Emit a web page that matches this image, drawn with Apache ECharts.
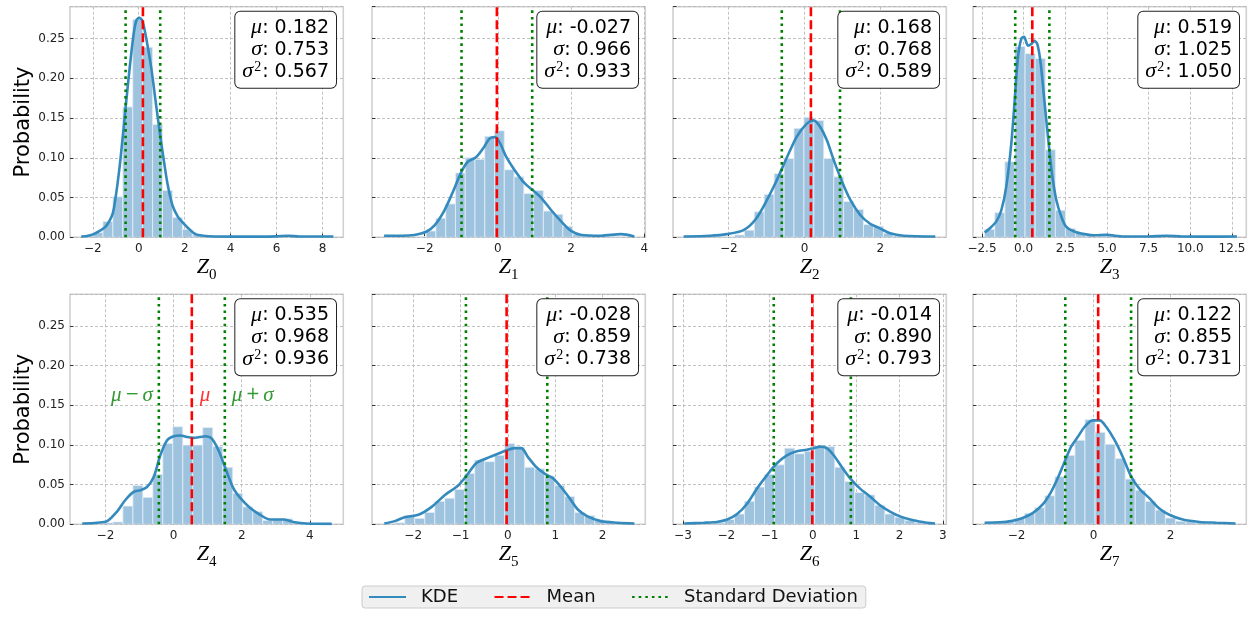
<!DOCTYPE html>
<html><head><meta charset="utf-8">
<script src="https://cdn.jsdelivr.net/npm/echarts@6/dist/echarts.min.js"></script>
<style>html,body{margin:0;padding:0;background:#fff;}#c{width:1255px;height:622px;}</style>
</head><body><div id="c"></div>
<script>
// ---------------- data ----------------
const panelIds = [0, 1, 2, 3, 4, 5, 6, 7];
const means = [0.182, -0.027, 0.168, 0.519, 0.535, -0.028, -0.014, 0.122];
const sigmas = [0.753, 0.966, 0.768, 1.025, 0.968, 0.859, 0.890, 0.855];
const variances = [0.567, 0.933, 0.589, 1.050, 0.936, 0.738, 0.793, 0.731];
const xMin = [-2.99, -3.44, -3.47, -3.04, -3.04, -2.87, -3.23, -3.13];
const xMax = [8.9, 4.03, 3.74, 13.36, 4.98, 2.90, 3.08, 3.97];
const xTicks = [[-2,0,2,4,6,8],[-2,0,2,4],[-2,0,2],[-2.5,0,2.5,5,7.5,10,12.5],[-2,0,2,4],[-2,-1,0,1,2],[-3,-2,-1,0,1,2,3],[-2,0,2]];
const xTickDecimals = [0, 0, 0, 1, 0, 0, 0, 0];
const yMax = 0.29;
const yInterval = 0.05;

const binStart = [-2.42, -3.028, -3.16, -2.34, -2.66, -2.60, -2.97, -2.83];
const binWidth = [0.432, 0.267, 0.262, 0.606, 0.293, 0.211, 0.2316, 0.261];
const hist0 = [0.002,0.006,0.020,0.051,0.164,0.274,0.239,0.142,0.059,0.025,0.010,0.003,0.001,0.001,0,0.0007,0,0,0,0.0007,0,0,0,0,0.0007];
const hist1 = [0.001,0,0,0.001,0.008,0.024,0.042,0.081,0.100,0.098,0.127,0.134,0.085,0.076,0.055,0.059,0.033,0.029,0.014,0.004,0.002,0,0.001,0.001,0];
const hist2 = [0,0.001,0,0.001,0.001,0.003,0.009,0.032,0.054,0.080,0.099,0.137,0.151,0.147,0.099,0.076,0.045,0.035,0.016,0.014,0.005,0.002,0.001,0,0.001];
const hist3 = [0.010,0.031,0.095,0.240,0.231,0.225,0.110,0.034,0.011,0.005,0.002,0.001,0.001,0,0,0,0.001,0,0,0,0,0,0,0,0.001];
const hist4 = [0,0.001,0.002,0.003,0.023,0.049,0.034,0.063,0.102,0.123,0.100,0.100,0.122,0.098,0.072,0.039,0.022,0.016,0.005,0.007,0.007,0.002,0.001,0,0.001];
const hist5 = [0.001,0.002,0.011,0.0075,0.015,0.029,0.033,0.044,0.064,0.081,0.079,0.087,0.102,0.097,0.072,0.070,0.061,0.049,0.035,0.015,0.011,0.005,0.002,0.001,0.001];
const hist6 = [0.001,0.001,0.001,0.002,0.006,0.013,0.029,0.047,0.063,0.075,0.096,0.089,0.092,0.098,0.098,0.072,0.054,0.040,0.037,0.024,0.013,0.009,0.005,0.002,0.001];
const hist7 = [0.001,0.002,0.003,0.0075,0.014,0.021,0.036,0.060,0.087,0.106,0.132,0.116,0.101,0.083,0.057,0.043,0.029,0.018,0.008,0.004,0.003,0.002,0.001,0.001,0];

const kde0 = [[-2.5,0.001],[-2.2,0.002],[-1.96,0.004],[-1.7,0.008],[-1.45,0.013],[-1.25,0.022],[-1.13,0.030],[-1.02,0.047],[-0.83,0.089],[-0.68,0.131],[-0.54,0.172],[-0.39,0.214],[-0.22,0.256],[-0.1,0.273],[0.02,0.276],[0.146,0.273],[0.29,0.256],[0.54,0.214],[0.73,0.172],[0.92,0.131],[1.1,0.095],[1.26,0.066],[1.47,0.040],[1.7,0.026],[1.9,0.019],[2.1,0.013],[2.47,0.004],[2.8,0.002],[3.3,0.001],[4.5,0.0008],[6.0,0.0012],[6.5,0.002],[7.0,0.001],[8.47,0.001]];
const kde1 = [[-3.11,0.002],[-2.64,0.002],[-2.28,0.003],[-1.96,0.007],[-1.73,0.015],[-1.46,0.034],[-1.23,0.057],[-1.0,0.082],[-0.82,0.095],[-0.59,0.101],[-0.37,0.114],[-0.23,0.124],[-0.09,0.126],[0.04,0.120],[0.23,0.101],[0.45,0.085],[0.73,0.068],[0.96,0.059],[1.18,0.050],[1.46,0.034],[1.73,0.020],[2.0,0.008],[2.28,0.003],[2.82,0.002],[3.37,0.004],[3.73,0.001]];
const kde2 = [[-3.19,0.001],[-2.49,0.002],[-2.05,0.004],[-1.61,0.009],[-1.30,0.022],[-0.99,0.047],[-0.73,0.072],[-0.46,0.101],[-0.20,0.127],[0.06,0.143],[0.24,0.147],[0.41,0.139],[0.59,0.122],[0.77,0.097],[0.99,0.070],[1.21,0.047],[1.47,0.028],[1.73,0.017],[2.0,0.011],[2.26,0.005],[2.61,0.002],[3.45,0.001]];
const kde3 = [[-2.34,0.006],[-2.04,0.011],[-1.64,0.020],[-1.34,0.034],[-1.04,0.064],[-0.74,0.118],[-0.54,0.172],[-0.34,0.227],[-0.14,0.250],[0.02,0.252],[0.26,0.241],[0.46,0.243],[0.62,0.247],[0.82,0.243],[1.02,0.219],[1.22,0.177],[1.46,0.126],[1.70,0.080],[1.96,0.047],[2.26,0.026],[2.56,0.013],[3.06,0.007],[3.66,0.004],[4.26,0.0025],[4.96,0.003],[6.0,0.001],[7.5,0.001],[8.56,0.002],[9.5,0.001],[11.0,0.0008],[12.8,0.001]];
const kde4 = [[-2.68,0.001],[-2.24,0.002],[-1.95,0.004],[-1.66,0.016],[-1.41,0.031],[-1.17,0.041],[-0.97,0.043],[-0.78,0.047],[-0.58,0.060],[-0.39,0.087],[-0.19,0.106],[0.0,0.111],[0.20,0.112],[0.39,0.110],[0.59,0.109],[0.78,0.110],[0.93,0.111],[1.12,0.108],[1.32,0.093],[1.51,0.072],[1.76,0.045],[2.0,0.031],[2.24,0.021],[2.54,0.012],[2.83,0.006],[3.22,0.006],[3.51,0.003],[3.90,0.001],[4.64,0.0005]];
const kde5 = [[-2.61,0.001],[-2.39,0.004],[-2.18,0.009],[-1.89,0.012],[-1.61,0.022],[-1.33,0.037],[-1.05,0.049],[-0.84,0.064],[-0.67,0.077],[-0.46,0.083],[-0.25,0.088],[-0.04,0.093],[0.14,0.096],[0.28,0.096],[0.42,0.085],[0.60,0.072],[0.77,0.064],[0.95,0.058],[1.12,0.047],[1.30,0.033],[1.47,0.019],[1.68,0.010],[1.96,0.004],[2.32,0.002],[2.67,0.001]];
const kde6 = [[-2.97,0.001],[-2.52,0.002],[-2.22,0.003],[-1.98,0.006],[-1.75,0.013],[-1.52,0.026],[-1.29,0.045],[-1.06,0.062],[-0.83,0.077],[-0.60,0.087],[-0.37,0.092],[-0.14,0.094],[0.02,0.096],[0.17,0.098],[0.32,0.096],[0.48,0.087],[0.67,0.072],[0.86,0.058],[1.09,0.045],[1.32,0.035],[1.55,0.024],[1.78,0.016],[2.01,0.010],[2.32,0.005],[2.63,0.002],[2.82,0.001]];
const kde7 = [[-2.83,0.002],[-2.44,0.0025],[-2.14,0.004],[-1.84,0.008],[-1.58,0.014],[-1.32,0.025],[-1.10,0.041],[-0.93,0.058],[-0.75,0.079],[-0.58,0.098],[-0.41,0.110],[-0.23,0.123],[-0.02,0.131],[0.16,0.131],[0.33,0.123],[0.55,0.106],[0.76,0.085],[0.98,0.060],[1.19,0.045],[1.45,0.033],[1.71,0.020],[1.97,0.012],[2.32,0.006],[2.75,0.003],[3.19,0.002],[3.69,0.001]];

const hists = [hist0, hist1, hist2, hist3, hist4, hist5, hist6, hist7];
const kdes = [kde0, kde1, kde2, kde3, kde4, kde5, kde6, kde7];
const annotY = 0.163; // height of the mu / mu±sigma text labels in panel 4

// ---------------- layout ----------------
const GL = [70, 372, 673, 973];
const GT = [6.7, 294.3];
const GW = 273.3;
const GH = [230.6, 230];

const MATH = 'Liberation Serif';
const SANS = 'DejaVu Sans';
const C_KDE = '#348ABD', C_BAR = '#9dc3df', C_MEAN = '#ff0000', C_STD = '#008000';

const grids = [], xAxes = [], yAxes = [], series = [], graphics = [];

function fmtTick(dec) {
  return function (v) {
    const s = dec ? v.toFixed(dec) : String(Math.round(v));
    return s.replace('-', '\u2212');
  };
}

function histRender(params, api) {
  const h = api.value(2);
  if (!(h > 0)) return null;
  const p0 = api.coord([api.value(0), h]);
  const p1 = api.coord([api.value(1), 0]);
  return {
    type: 'rect',
    shape: { x: p0[0], y: p0[1], width: p1[0] - p0[0], height: p1[1] - p0[1] },
    style: { fill: C_BAR, stroke: '#e6eff7', lineWidth: 0.8 }
  };
}

panelIds.forEach(function (i) {
  const row = i < 4 ? 0 : 1, col = i % 4;
  grids.push({ left: GL[col], top: GT[row], width: GW, height: GH[row], show: true,
    borderColor: '#d0d0d0', borderWidth: 1.6, backgroundColor: '#fff' });
  xAxes.push({
    type: 'value', gridIndex: i, min: xMin[i], max: xMax[i],
    axisLine: { show: false, onZero: false },
    axisTick: { show: true, inside: true, length: 3.5, customValues: xTicks[i], lineStyle: { color: '#333', width: 1 } },
    axisLabel: { customValues: xTicks[i], formatter: fmtTick(xTickDecimals[i]), fontSize: 12, fontFamily: SANS, color: '#222', margin: 6 },
    splitLine: { show: true, lineStyle: { color: '#b3b3b3', width: 0.8, type: [3, 2] } },
    name: '{z|Z}{s|' + i + '}', nameLocation: 'middle', nameGap: row === 0 ? 16 : 19,
    nameTextStyle: { rich: {
      z: { fontFamily: MATH, fontStyle: 'italic', fontSize: 22, lineHeight: 24, verticalAlign: 'top', color: '#000' },
      s: { fontFamily: MATH, fontSize: 15, lineHeight: 26, verticalAlign: 'bottom', color: '#000' }
    } }
  });
  yAxes.push({
    type: 'value', gridIndex: i, min: 0, max: yMax, interval: yInterval,
    axisLine: { show: false, onZero: false },
    axisTick: { show: true, inside: true, length: 3.5, lineStyle: { color: '#333', width: 1 } },
    axisLabel: { show: col === 0, formatter: function (v) { return v.toFixed(2); }, showMaxLabel: false,
      fontSize: 12, fontFamily: SANS, color: '#222', margin: 5 },
    splitLine: { show: true, lineStyle: { color: '#b3b3b3', width: 0.8, type: [3, 2] } },
    name: col === 0 ? 'Probability' : '', nameLocation: 'middle', nameGap: 34,
    nameTextStyle: { fontSize: 21, fontFamily: SANS, color: '#000' }
  });

  const bins = hists[i].map(function (h, k) {
    return [binStart[i] + k * binWidth[i], binStart[i] + (k + 1) * binWidth[i], h];
  });
  series.push({ type: 'custom', xAxisIndex: i, yAxisIndex: i, renderItem: histRender,
    encode: { x: [0, 1], y: 2 }, data: bins, z: 1, silent: true, clip: true });
  series.push({ type: 'line', name: 'KDE', xAxisIndex: i, yAxisIndex: i, data: kdes[i], smooth: 0.3,
    symbol: 'none', lineStyle: { color: C_KDE, width: 2.6 }, itemStyle: { color: C_KDE }, z: 3, silent: true });
  const mu = means[i], sd = sigmas[i];
  series.push({ type: 'line', name: 'Mean', xAxisIndex: i, yAxisIndex: i, data: [[mu, 0], [mu, yMax]],
    symbol: 'none', lineStyle: { color: C_MEAN, width: 2.6, type: [9, 4] }, itemStyle: { color: C_MEAN }, z: 5, silent: true });
  [mu - sd, mu + sd].forEach(function (xv) {
    series.push({ type: 'line', name: 'Standard Deviation', xAxisIndex: i, yAxisIndex: i, data: [[xv, 0], [xv, yMax]],
      symbol: 'none', lineStyle: { color: C_STD, width: 2.6, type: [2.6, 4] }, itemStyle: { color: C_STD }, z: 4, silent: true });
  });

  graphics.push({
    type: 'text', z: 100, x: GL[col] + GW - 7.3, y: GT[row] + 5,
    style: {
      text: '{m|\u03bc}{t|: ' + mu.toFixed(3) + '}\n{m|\u03c3}{t|: ' + sd.toFixed(3) + '}\n{m|\u03c3}{s|2}{t|: ' + variances[i].toFixed(3) + '}',
      align: 'right', verticalAlign: 'top',
      backgroundColor: '#fff', borderColor: '#222', borderWidth: 1, borderRadius: 5,
      padding: [5, 7, 5, 7],
      rich: {
        m: { fontFamily: MATH, fontStyle: 'italic', fontSize: 22, lineHeight: 22, align: 'right', fill: '#000' },
        t: { fontFamily: SANS, fontSize: 19, lineHeight: 22, align: 'right', fill: '#000' },
        s: { fontFamily: MATH, fontSize: 14, lineHeight: 22, verticalAlign: 'top', align: 'right', fill: '#000', padding: [0, 1, 0, 1] }
      }
    }
  });
});

// annotations in panel 4
const annRich = {
  g: { fontFamily: MATH, fontStyle: 'italic', fontSize: 21, color: C_STD },
  go: { fontFamily: SANS, fontSize: 17, color: C_STD },
  r: { fontFamily: MATH, fontStyle: 'italic', fontSize: 21, color: C_MEAN }
};
series.push({
  type: 'scatter', xAxisIndex: 4, yAxisIndex: 4, symbolSize: 0, silent: true, z: 6,
  data: [
    { value: [means[4] - sigmas[4], annotY], label: { show: true, position: 'left', distance: 6, formatter: '{g|\u03bc} {go|\u2212} {g|\u03c3}', rich: annRich } },
    { value: [means[4], annotY], label: { show: true, position: 'right', distance: 8, formatter: '{r|\u03bc}', rich: annRich } },
    { value: [means[4] + sigmas[4], annotY], label: { show: true, position: 'right', distance: 7, formatter: '{g|\u03bc} {go|+} {g|\u03c3}', rich: annRich } }
  ]
});

const chart = echarts.init(document.getElementById('c'), null, { renderer: 'canvas' });
chart.setOption({
  animation: false,
  backgroundColor: '#fff',
  grid: grids, xAxis: xAxes, yAxis: yAxes, series: series, graphic: graphics,
  legend: {
    data: ['KDE', 'Mean', 'Standard Deviation'], left: 362, top: 586,
    padding: [2, 8, 2, 6], itemWidth: 37, itemHeight: 12, itemGap: 35.5,
    backgroundColor: '#f0f0f0', borderColor: '#cccccc', borderWidth: 1, borderRadius: 3,
    selectedMode: false,
    itemStyle: { opacity: 0 },
    textStyle: { fontSize: 18, fontFamily: SANS, color: '#111', padding: [0, 0, 0, 10] }
  }
});
</script></body></html>
